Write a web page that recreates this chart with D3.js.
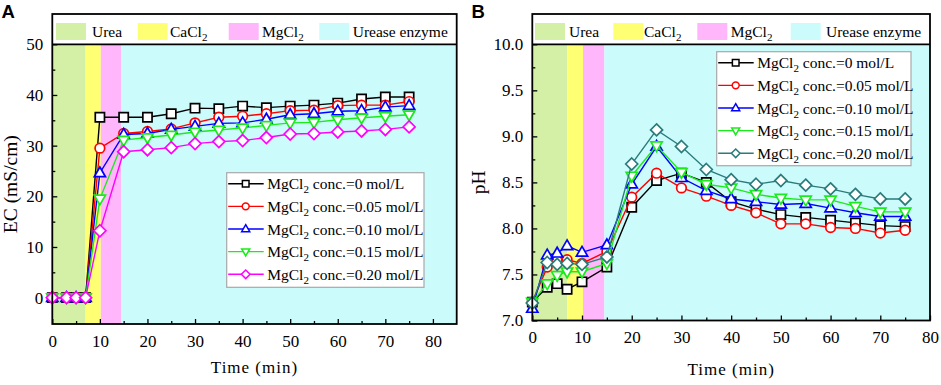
<!DOCTYPE html>
<html>
<head>
<meta charset="utf-8">
<script src="https://cdn.jsdelivr.net/npm/d3@7"></script>
<style>
    body { margin: 0; background: #fff; }
</style>
</head>
<body>
<div id="chart"></div>
<script>
// sampling times (min), same for both panels
const times = [0, 3, 5, 7, 10, 15, 20, 25, 30, 35, 40, 45, 50, 55, 60, 65, 70, 75];
const concLabels = ["0", "0.05", "0.10", "0.15", "0.20"];

// treatment phases (min)
const phaseNames = ["Urea", "CaCl", "MgCl", "Urease enzyme"];
const phaseSub = ["", "2", "2", ""];
const phaseStart = [0, 7, 10.2, 14.5];
const phaseEnd = [7, 10.2, 14.5, 100];

// panel A : EC (mS/cm)
const ec000 = [0, 0, 0, 0, 35.6, 35.6, 35.6, 36.3, 37.4, 37.3, 37.8, 37.5, 37.8, 38.0, 38.4, 39.2, 39.6, 39.6];
const ec005 = [0, 0, 0, 0, 29.5, 32.4, 32.8, 33.3, 34.5, 35.6, 35.8, 36.3, 36.9, 37.0, 37.9, 38.0, 38.0, 38.7];
const ec010 = [0, 0, 0, 0, 24.6, 32.2, 32.4, 33.2, 33.8, 34.4, 34.5, 35.2, 36.1, 36.3, 36.8, 36.9, 37.6, 37.9];
const ec015 = [0, 0, 0, 0, 19.5, 31.1, 31.6, 32.1, 32.7, 33.1, 33.5, 34.0, 34.5, 34.6, 35.1, 35.5, 35.8, 36.1];
const ec020 = [0, 0, 0, 0, 13.2, 28.8, 29.2, 29.6, 30.4, 30.8, 31.0, 31.6, 32.3, 32.4, 32.7, 32.9, 33.2, 33.7];

// panel B : pH
const ph000 = [7.2, 7.36, 7.40, 7.34, 7.42, 7.58, 8.23, 8.52, 8.60, 8.50, 8.29, 8.21, 8.15, 8.12, 8.09, 8.06, 8.03, 8.02];
const ph005 = [7.2, 7.58, 7.65, 7.66, 7.62, 7.75, 8.34, 8.60, 8.44, 8.35, 8.25, 8.17, 8.05, 8.05, 8.01, 8.00, 7.95, 7.98];
const ph010 = [7.13, 7.71, 7.73, 7.81, 7.74, 7.82, 8.48, 8.89, 8.55, 8.41, 8.32, 8.29, 8.26, 8.27, 8.22, 8.17, 8.13, 8.13];
const ph015 = [7.2, 7.40, 7.49, 7.53, 7.53, 7.62, 8.57, 8.90, 8.61, 8.48, 8.44, 8.37, 8.33, 8.31, 8.31, 8.24, 8.18, 8.18];
const ph020 = [7.19, 7.63, 7.61, 7.62, 7.61, 7.69, 8.70, 9.07, 8.89, 8.64, 8.53, 8.48, 8.52, 8.47, 8.43, 8.37, 8.32, 8.32];

// axis ticks
const ecTicks = [0, 10, 20, 30, 40, 50];
const ecMinor = [5, 15, 25, 35, 45];
const phTicks = [7.0, 7.5, 8.0, 8.5, 9.0, 9.5, 10.0];
const phMinor = [7.25, 7.75, 8.25, 8.75, 9.25, 9.75];
const timeTicks = [0, 10, 20, 30, 40, 50, 60, 70, 80];
const timeMinor = [5, 15, 25, 35, 45, 55, 65, 75];

const phaseColors = ["#d3f0a6", "#ffff73", "#ffb6fb", "#ccfbfc"];
const shapes = ["square", "circle", "up", "down", "diamond"];
const serif = "'Liberation Serif', 'Times New Roman', serif";

var svg = d3.select("#chart").append("svg")
    .attr("width", 941).attr("height", 385);

function markerPath(type, s) {
    var p = d3.path();
    if (type === "circle") {
        p.arc(0, 0, 4.8 * s, 0, 2 * Math.PI);
    } else if (type === "square") {
        var r = 4.6 * s;
        p.rect(-r, -r, 2 * r, 2 * r);
    } else if (type === "up" || type === "down") {
        var k = type === "up" ? 1 : -1;
        p.moveTo(0, -6 * s * k);
        p.lineTo(5.6 * s, 3.7 * s * k);
        p.lineTo(-5.6 * s, 3.7 * s * k);
        p.closePath();
    } else {
        var d = 6 * s;
        p.moveTo(0, -d); p.lineTo(d, 0); p.lineTo(0, d); p.lineTo(-d, 0); p.closePath();
    }
    return p.toString();
}

function addMgLabel(textSel, conc) {
    textSel.append("tspan").text("MgCl");
    textSel.append("tspan").text("2").style("font-size", "11px").attr("dy", 4);
    textSel.append("tspan").text(" conc.=" + conc + " mol/L").attr("dy", -4);
}

function drawPanel(cfg) {
    var g = svg.append("g");

    var x = d3.scaleLinear().domain(cfg.xDomain).range([cfg.left, cfg.right]);
    var y = d3.scaleLinear().domain(cfg.yDomain).range([cfg.bottom, cfg.dataTop]);

    //Phase background bands
    g.selectAll("rect.band")
        .data(phaseStart)
        .enter()
        .append("rect")
        .attr("x", (d) => x(d))
        .attr("width", (d, i) => x(Math.min(phaseEnd[i], cfg.xDomain[1])) - x(d))
        .attr("y", cfg.dataTop)
        .attr("height", cfg.bottom - cfg.dataTop)
        .attr("fill", (d, i) => phaseColors[i]);

    //Header legend for phases
    g.append("rect")
        .attr("x", cfg.left).attr("y", cfg.top)
        .attr("width", cfg.right - cfg.left).attr("height", cfg.dataTop - cfg.top)
        .attr("fill", "white");
    phaseNames.forEach(function (name, i) {
        g.append("rect")
            .attr("x", cfg.headerBox[i]).attr("y", cfg.top + 9)
            .attr("width", 30).attr("height", 17)
            .attr("fill", phaseColors[i]);
        var t = g.append("text")
            .attr("x", cfg.headerText[i]).attr("y", cfg.top + 23)
            .style("font-size", "15.5px");
        t.append("tspan").text(name);
        if (phaseSub[i]) {
            t.append("tspan").text(phaseSub[i]).style("font-size", "11px").attr("dy", 4);
        }
    });

    //Axes with inner ticks
    var xAxis = g.append("g")
        .attr("transform", `translate(0,${cfg.bottom})`)
        .call(d3.axisBottom(x).tickValues(timeTicks).tickSize(-5).tickPadding(cfg.xPad).tickFormat(d3.format("d")));
    g.append("g")
        .attr("transform", `translate(0,${cfg.bottom})`)
        .call(d3.axisBottom(x).tickValues(timeMinor).tickSize(-3).tickFormat(""));
    var yAxis = g.append("g")
        .attr("transform", `translate(${cfg.left},0)`)
        .call(d3.axisLeft(y).tickValues(cfg.yTicks).tickSize(-5).tickPadding(9).tickFormat(d3.format(cfg.yFormat)));
    g.append("g")
        .attr("transform", `translate(${cfg.left},0)`)
        .call(d3.axisLeft(y).tickValues(cfg.yMinor).tickSize(-3).tickFormat(""));

    g.selectAll(".domain").remove();
    g.selectAll(".tick line").attr("stroke", "black").attr("stroke-width", 1.3);
    //17px: at 18-20px this serif comes out looking like a sans here
    xAxis.selectAll(".tick text").style("font-size", "17px").attr("fill", "black");
    yAxis.selectAll(".tick text").style("font-size", "17px").attr("fill", "black");

    //Series lines and markers
    cfg.series.forEach(function (vals, si) {
        var pts = times.map((t, i) => [t, vals[i]]);
        g.append("path")
            .datum(pts)
            .attr("fill", "none")
            .attr("stroke", cfg.colors[si])
            .attr("stroke-width", 1.4)
            .attr("d", d3.line().x((d) => x(d[0])).y((d) => y(d[1])));
        g.selectAll("path.m" + si)
            .data(pts)
            .enter()
            .append("path")
            .attr("class", "m" + si)
            .attr("transform", (d) => `translate(${x(d[0])},${y(d[1])})`)
            .attr("d", markerPath(shapes[si], 1))
            .attr("fill", "white")
            .attr("stroke", cfg.colors[si])
            .attr("stroke-width", 1.7);
    });

    //Frame and header separator
    g.append("rect")
        .attr("x", cfg.left).attr("y", cfg.top)
        .attr("width", cfg.right - cfg.left).attr("height", cfg.bottom - cfg.top)
        .attr("fill", "none").attr("stroke", "black").attr("stroke-width", 1.8);
    g.append("line")
        .attr("x1", cfg.left).attr("x2", cfg.right)
        .attr("y1", cfg.dataTop).attr("y2", cfg.dataTop)
        .attr("stroke", "black").attr("stroke-width", 1.8);

    //Series legend
    var lg = cfg.legend;
    g.append("rect")
        .attr("x", lg.x).attr("y", lg.y)
        .attr("width", lg.w).attr("height", lg.h)
        .attr("fill", "white").attr("stroke", "#a8a8a8").attr("stroke-width", 1.2);
    concLabels.forEach(function (c, i) {
        var yy = lg.y + 11 + i * 22.65;
        g.append("line")
            .attr("x1", lg.x + 1.5).attr("x2", lg.x + 37)
            .attr("y1", yy).attr("y2", yy)
            .attr("stroke", cfg.colors[i]).attr("stroke-width", 1.4);
        g.append("path")
            .attr("transform", `translate(${lg.x + 19},${yy})`)
            .attr("d", markerPath(shapes[i], 0.72))
            .attr("fill", "white")
            .attr("stroke", cfg.colors[i])
            .attr("stroke-width", 1.5);
        var t = g.append("text")
            .attr("x", lg.x + 40.5).attr("y", yy + 5.5)
            .style("font-size", "15.5px");
        addMgLabel(t, c);
    });

    //Axis titles
    g.append("text")
        .attr("x", (cfg.left + cfg.right) / 2).attr("y", cfg.xTitleY)
        .attr("text-anchor", "middle").style("font-size", "17px")
        .style("letter-spacing", "1px")
        .text("Time (min)");
    g.append("text")
        .attr("transform", `translate(${cfg.yTitleX},${(cfg.dataTop + cfg.bottom) / 2}) rotate(-90)`)
        .attr("text-anchor", "middle").style("font-size", "19.5px")
        .text(cfg.yTitle);

    //All texts in serif, then the panel letter in bold sans
    g.selectAll("text").style("font-family", serif).style("font-weight", "normal");
    g.append("text")
        .attr("x", cfg.letterX).attr("y", 18.3)
        .style("font-family", "'Liberation Sans', Arial, sans-serif")
        .style("font-weight", "bold").style("font-size", "18.5px")
        .text(cfg.letter);
}

drawPanel({
    letter: "A", letterX: 1.5,
    left: 52.3, right: 456.7, top: 14, dataTop: 44.3, bottom: 324,
    xDomain: [0, 85], yDomain: [-5.2, 50],
    yTicks: ecTicks, yMinor: ecMinor, yFormat: "d",
    xPad: 10.9, xTitleY: 372.5, yTitleX: 17, yTitle: "EC (mS/cm)",
    headerBox: [56, 137.7, 228.7, 319.3],
    headerText: [92, 170, 262, 352.7],
    series: [ec000, ec005, ec010, ec015, ec020],
    colors: ["#000000", "#ff0000", "#0000ff", "#1aeb1a", "#ff00ff"],
    legend: { x: 226.7, y: 172.7, w: 197.3, h: 114.6 }
});

drawPanel({
    letter: "B", letterX: 471.5,
    left: 532.3, right: 930, top: 14, dataTop: 44.3, bottom: 320.5,
    xDomain: [0, 80], yDomain: [7, 10],
    yTicks: phTicks, yMinor: phMinor, yFormat: ".1f",
    xPad: 10.4, xTitleY: 375, yTitleX: 485, yTitle: "pH",
    headerBox: [535, 613.3, 697.3, 790.7],
    headerText: [569, 644, 730.7, 826],
    series: [ph000, ph005, ph010, ph015, ph020],
    colors: ["#000000", "#ff0000", "#0000ff", "#1aeb1a", "#2b7b7b"],
    legend: { x: 716.7, y: 51.7, w: 194.3, h: 114 }
});
</script>
</body>
</html>
